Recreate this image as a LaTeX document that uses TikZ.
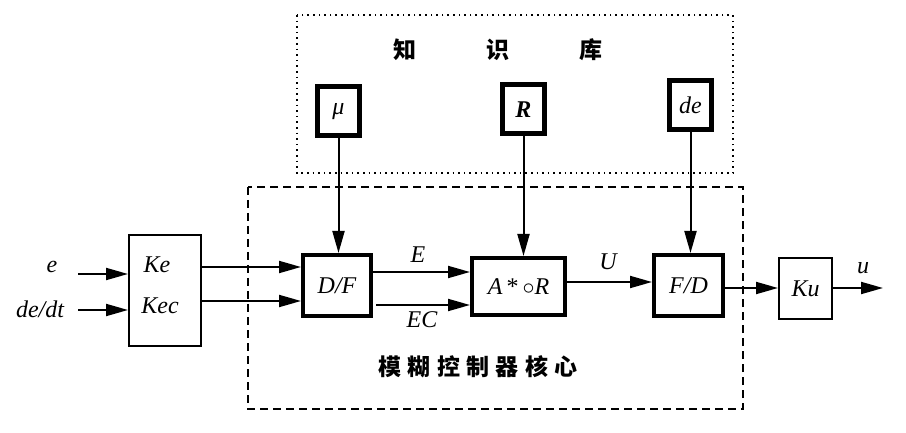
\documentclass[tikz,border=0pt]{standalone}
\usepackage{fontspec}
\setmainfont{Liberation Serif}
\newfontfamily\cjk{Noto Sans CJK SC}
\usepackage{tikz}
\usetikzlibrary{arrows.meta, calc}

\begin{document}
\begin{tikzpicture}[x=0.5pt, y=-0.5pt, >={Triangle[length=11pt, width=6pt]},
    every node/.style={font=\fontsize{12}{14}\selectfont\itshape},
    thickbox/.style={draw, line width=2pt, inner sep=0pt, minimum width=34pt, minimum height=30.5pt},
    kbbox/.style={draw, line width=2.5pt, inner sep=0pt, minimum width=21pt, minimum height=24.5pt},
    thinbox/.style={draw, line width=1pt, inner sep=0pt},
    arr/.style={->, line width=1pt},
    hanzi/.style={font=\fontsize{11.5}{13}\selectfont\cjk\bfseries}]
    \useasboundingbox (0,0) rectangle (906,433);
    % knowledge base and fuzzy core frames
    \draw[dotted, line width=0.8pt] (297,15) rectangle (733,173);
    \draw[dash pattern=on 4pt off 2.5pt, line width=1pt] (248,187) rectangle (743,409);
    \node[hanzi] (kbtitle) at (498,50) {知\hspace{35pt}识\hspace{35pt}库};
    \node[hanzi] (coretitle) at (478,367) {模\hspace{3.2pt}糊\hspace{3.2pt}控\hspace{3.2pt}制\hspace{3.2pt}器\hspace{3.2pt}核\hspace{3.2pt}心};
    % blocks
    \node[kbbox] (mu) at (338.5,111.5) {μ};
    \node[kbbox] (rr) at (523.5,109.5) {\bfseries R};
    \node[kbbox] (dd) at (690.5,105.5) {de};
    \node[thinbox, minimum width=36pt, minimum height=55.5pt] (kk) at (165,290.5) {};
    \node (ke) at (157,265) {Ke};
    \node (kec) at (160,306) {Kec};
    \node[thickbox] (df) at (337,285.5) {D/F};
    \node[thickbox, minimum width=46.5pt, minimum height=28.5pt] (ar) at (518.5,286.5) {A\,\upshape*\,$\circ$\itshape R};
    \node[thickbox, minimum width=34.5pt] (fd) at (688.5,285.5) {F/D};
    \node[thinbox, minimum width=26.5pt, minimum height=30.5pt] (ku) at (805.5,288.5) {Ku};
    % signals
    \node (e) at (52,267) {e};
    \node (dedt) at (40,309) {de/dt};
    \node (E) at (418,255) {E};
    \node (EC) at (422,320) {EC};
    \node (U) at (608,262) {U};
    \node (u) at (863,268) {u};
    \coordinate (ein) at (78,274);
    \coordinate (dein) at (78,310);
    \coordinate (uout) at (883,288);
    % connectors
    \draw[arr] (ein) -- (kk.west |- ein);
    \draw[arr] (dein) -- (kk.west |- dein);
    \draw[arr] (kk.east |- 0,267) -- (df.west |- 0,267);
    \draw[arr] (kk.east |- 0,301) -- (df.west |- 0,301);
    \draw[arr] (df.east |- 0,272) -- (ar.west |- 0,272);
    \draw[arr] ($(df.east |- 0,305)+(3,0)$) -- (ar.west |- 0,305);
    \draw[arr] (mu.south) -- (mu.south |- df.north);
    \draw[arr] (rr.south) -- (rr.south |- ar.north);
    \draw[arr] (dd.south) -- (dd.south |- fd.north);
    \draw[arr] (ar.east |- 0,282) -- (fd.west |- 0,282);
    \draw[arr] (fd.east |- 0,288) -- (ku.west |- 0,288);
    \draw[arr] (ku.east |- uout) -- (uout);
\end{tikzpicture}
\end{document}
